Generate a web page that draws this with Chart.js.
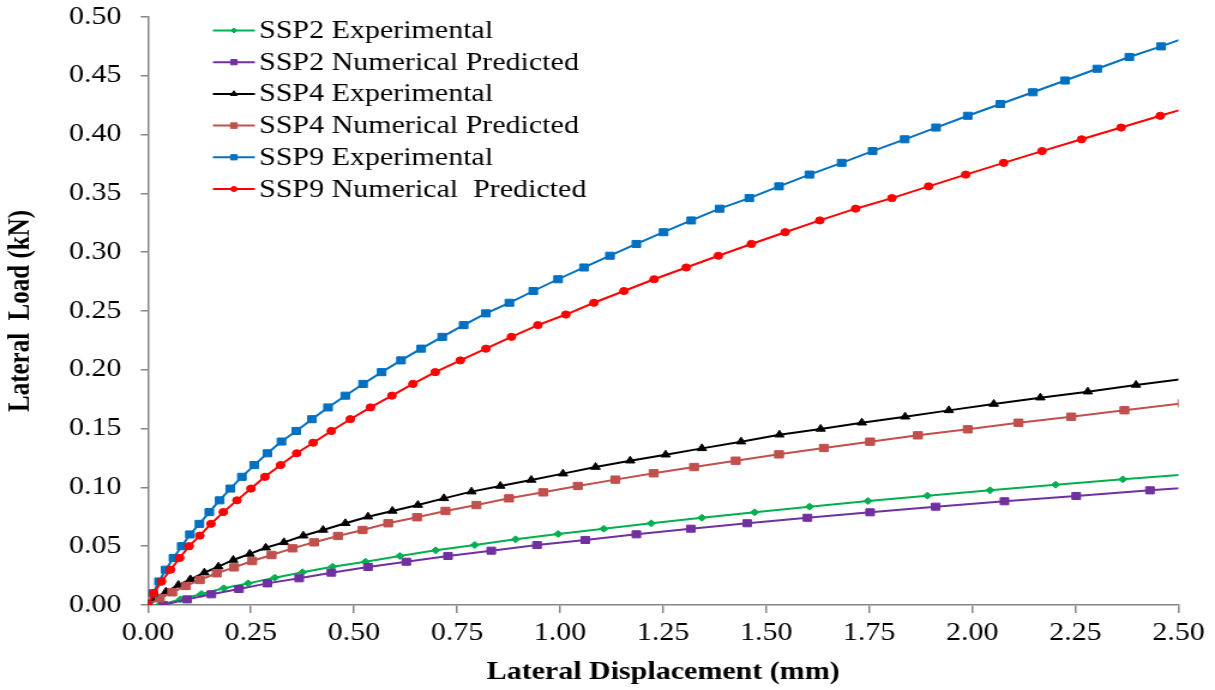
<!DOCTYPE html>
<html>
<head>
<meta charset="utf-8">
<script src="https://cdn.jsdelivr.net/npm/chart.js@4/dist/chart.umd.min.js"></script>
<style>
  html, body { margin: 0; padding: 0; background: #fff; overflow: hidden; }
  /* the chart is laid out narrower and stretched sideways to the page width */
  #wrap { width: 1013px; height: 690px; transform: scaleX(1.1994); transform-origin: 0 0; }
</style>
</head>
<body>
<div id="wrap"><canvas id="graficoCarga" width="1013" height="690"></canvas></div>
<script>
// -------------------------------------------------------
// Lateral load vs lateral displacement, SSP2 / SSP4 / SSP9
// -------------------------------------------------------

// SSP2 experimental
const ssp2ExpX = [0.028, 0.079, 0.130, 0.184, 0.243, 0.308, 0.375, 0.448, 0.528, 0.611,
  0.698, 0.793, 0.892, 0.995, 1.106, 1.221, 1.344, 1.472, 1.605, 1.747, 1.891, 2.043,
  2.202, 2.365, 2.535];
const ssp2ExpY = [0.0, 0.0048, 0.0094, 0.0142, 0.0184, 0.0232, 0.0278, 0.0326, 0.0368, 0.0417,
  0.0465, 0.0510, 0.0559, 0.0604, 0.0649, 0.0695, 0.0742, 0.0788, 0.0836, 0.0884, 0.0930, 0.0975,
  0.1023, 0.1069, 0.1115];

// SSP2 numerical
const ssp2NumX = [0.037, 0.095, 0.154, 0.221, 0.290, 0.367, 0.445, 0.534, 0.627, 0.728,
  0.833, 0.944, 1.061, 1.185, 1.317, 1.454, 1.600, 1.752, 1.911, 2.078, 2.252, 2.431, 2.620];
const ssp2NumY = [0.0, 0.0048, 0.0091, 0.0136, 0.0184, 0.0227, 0.0275, 0.0323, 0.0368, 0.0417,
  0.0462, 0.0510, 0.0553, 0.0601, 0.0649, 0.0695, 0.0742, 0.0788, 0.0836, 0.0882, 0.0927, 0.0975, 0.1020];

// SSP4 experimental
const ssp4ExpX = [0, 0.017, 0.044, 0.074, 0.103, 0.137, 0.171, 0.207, 0.247, 0.286, 0.330,
  0.377, 0.425, 0.479, 0.534, 0.593, 0.655, 0.718, 0.785, 0.855, 0.930, 1.007, 1.086, 1.170,
  1.256, 1.344, 1.439, 1.532, 1.632, 1.732, 1.837, 1.943, 2.052, 2.165, 2.280, 2.397, 2.520];
const ssp4ExpY = [0, 0.0057, 0.0113, 0.0170, 0.0218, 0.0275, 0.0326, 0.0383, 0.0434, 0.0487, 0.0533,
  0.0589, 0.0638, 0.0695, 0.0751, 0.0800, 0.0850, 0.0907, 0.0964, 0.1012, 0.1063, 0.1117, 0.1173, 0.1227,
  0.1278, 0.1332, 0.1389, 0.1448, 0.1497, 0.1550, 0.1601, 0.1655, 0.1709, 0.1763, 0.1814, 0.1871, 0.1925];

// SSP4 numerical
const ssp4NumX = [0, 0.029, 0.059, 0.092, 0.126, 0.167, 0.209, 0.253, 0.300, 0.351, 0.403,
  0.461, 0.521, 0.583, 0.653, 0.722, 0.797, 0.876, 0.959, 1.043, 1.134, 1.227, 1.325, 1.426,
  1.531, 1.640, 1.752, 1.868, 1.989, 2.112, 2.240, 2.369, 2.510];
const ssp4NumY = [0, 0.0057, 0.0108, 0.0162, 0.0213, 0.0270, 0.0320, 0.0374, 0.0425, 0.0482, 0.0533,
  0.0587, 0.0638, 0.0695, 0.0746, 0.0800, 0.0850, 0.0907, 0.0958, 0.1012, 0.1066, 0.1120, 0.1173, 0.1227,
  0.1281, 0.1335, 0.1389, 0.1443, 0.1494, 0.1550, 0.1601, 0.1656, 0.1715];

// SSP9 experimental
const ssp9ExpX = [0, 0.013, 0.027, 0.043, 0.062, 0.082, 0.102, 0.125, 0.149, 0.174, 0.200,
  0.228, 0.258, 0.290, 0.324, 0.360, 0.398, 0.437, 0.479, 0.522, 0.567, 0.614, 0.663, 0.714,
  0.766, 0.820, 0.877, 0.935, 0.995, 1.058, 1.121, 1.185, 1.251, 1.318, 1.387, 1.459, 1.531,
  1.605, 1.683, 1.758, 1.836, 1.912, 1.989, 2.068, 2.147, 2.225, 2.303, 2.381, 2.458, 2.538];
const ssp9ExpY = [0, 0.010, 0.020, 0.030, 0.040, 0.050, 0.060, 0.069, 0.079, 0.089, 0.099,
  0.109, 0.119, 0.129, 0.139, 0.148, 0.158, 0.168, 0.178, 0.188, 0.198, 0.208, 0.218, 0.228,
  0.238, 0.248, 0.257, 0.267, 0.277, 0.287, 0.297, 0.307, 0.317, 0.327, 0.337, 0.346, 0.356,
  0.366, 0.376, 0.386, 0.396, 0.406, 0.416, 0.426, 0.436, 0.446, 0.456, 0.466, 0.475, 0.485];

// SSP9 numerical
const ssp9NumX = [0, 0.014, 0.033, 0.055, 0.077, 0.100, 0.126, 0.153, 0.183, 0.216, 0.250,
  0.284, 0.322, 0.361, 0.401, 0.445, 0.491, 0.540, 0.592, 0.643, 0.697, 0.758, 0.820, 0.882,
  0.946, 1.014, 1.082, 1.155, 1.228, 1.306, 1.384, 1.464, 1.546, 1.630, 1.717, 1.805, 1.894,
  1.984, 2.076, 2.169, 2.265, 2.361, 2.456, 2.553];
const ssp9NumY = [0, 0.010, 0.020, 0.030, 0.040, 0.050, 0.059, 0.069, 0.079, 0.089, 0.099,
  0.109, 0.119, 0.129, 0.138, 0.148, 0.158, 0.168, 0.178, 0.188, 0.198, 0.208, 0.218, 0.228,
  0.238, 0.247, 0.257, 0.267, 0.277, 0.287, 0.297, 0.307, 0.317, 0.327, 0.337, 0.346, 0.356,
  0.366, 0.376, 0.386, 0.396, 0.406, 0.416, 0.426];

const serie = (xs, ys) => xs.map((x, i) => ({ x: x, y: ys[i] }));

const fuente = 'Liberation Serif';

function dataset(label, xs, ys, color, style, radius, order) {
  return {
    label: label,
    data: serie(xs, ys),
    borderColor: color,
    backgroundColor: color,
    borderWidth: 2,
    pointStyle: style,
    pointRadius: radius,
    pointBackgroundColor: color,
    pointBorderColor: color,
    pointBorderWidth: 1,
    legendRadius: Math.max(radius - 1.3, 2.5),
    tension: 0,
    order: order
  };
}

const dataCarga = {
  datasets: [
    dataset('SSP2 Experimental', ssp2ExpX, ssp2ExpY, '#00B050', 'rectRot', 3.5, 6),
    dataset('SSP2 Numerical Predicted', ssp2NumX, ssp2NumY, '#7030A0', 'rect', 5, 5),
    dataset('SSP4 Experimental', ssp4ExpX, ssp4ExpY, '#000000', 'triangle', 4.5, 4),
    dataset('SSP4 Numerical Predicted', ssp4NumX, ssp4NumY, '#C0504D', 'rect', 5.2, 3),
    dataset('SSP9 Experimental', ssp9ExpX, ssp9ExpY, '#0070C0', 'rect', 5, 2),
    dataset('SSP9 Numerical  Predicted', ssp9NumX, ssp9NumY, '#FF0000', 'circle', 3.6, 1)
  ]
};

// legend drawn inside the plot, top left: short line + marker + label
const leyendaInterior = {
  id: 'leyendaInterior',
  afterDraw(chart) {
    const ctx = chart.ctx;
    ctx.save();
    ctx.font = '25px "' + fuente + '"';
    ctx.textBaseline = 'middle';
    ctx.textAlign = 'left';
    chart.data.datasets.forEach((ds, i) => {
      const y = 30.5 + i * 31.7;
      ctx.strokeStyle = ds.borderColor;
      ctx.lineWidth = 2;
      ctx.beginPath();
      ctx.moveTo(177.5, y);
      ctx.lineTo(212.5, y);
      ctx.stroke();
      ctx.fillStyle = ds.borderColor;
      ctx.lineWidth = 1;
      Chart.helpers.drawPoint(ctx, {
        pointStyle: ds.pointStyle, radius: ds.legendRadius, borderWidth: 1, rotation: 0
      }, 195, y);
      ctx.fillStyle = '#000';
      ctx.fillText(ds.label, 216, y + 1);
    });
    ctx.restore();
  }
};

const ejeGris = '#868686';

const configCarga = {
  type: 'line',
  data: dataCarga,
  options: {
    responsive: false,
    animation: false,
    layout: { padding: { top: 17, right: 30.5, bottom: 0, left: 0 } },
    plugins: {
      legend: { display: false },
      tooltip: { enabled: false }
    },
    scales: {
      x: {
        type: 'linear',
        min: 0,
        max: 2.5,
        afterFit: (axis) => { axis.height = 85; },
        ticks: {
          stepSize: 0.25,
          padding: 5,
          maxRotation: 0,
          color: '#000',
          font: { family: fuente, size: 25 },
          callback: (v) => v.toFixed(2)
        },
        grid: { drawOnChartArea: false, drawTicks: true, tickLength: 8, color: ejeGris, lineWidth: 1.5 },
        border: { color: ejeGris, width: 1.5 },
        title: {
          display: true,
          text: 'Lateral Displacement (mm)',
          color: '#000',
          padding: { top: 0, bottom: 2 },
          font: { family: fuente, size: 25, weight: 'bold' }
        }
      },
      y: {
        type: 'linear',
        min: 0,
        max: 0.5,
        // fixed axis width; the top label may sit in the page margin
        afterFit: (axis) => { axis.width = 123.3; axis.paddingTop = 0; },
        ticks: {
          stepSize: 0.05,
          padding: 16,
          color: '#000',
          font: { family: fuente, size: 25 },
          callback: (v) => v.toFixed(2)
        },
        grid: { drawOnChartArea: false, drawTicks: true, tickLength: 6, color: ejeGris, lineWidth: 1.5 },
        border: { color: ejeGris, width: 1.5 },
        title: {
          display: true,
          text: 'Lateral  Load (kN)',
          color: '#000',
          padding: { top: 3, bottom: 0 },
          font: { family: fuente, size: 25, weight: 'bold' }
        }
      }
    }
  },
  plugins: [leyendaInterior]
};

const ctxCarga = document.getElementById('graficoCarga').getContext('2d');
new Chart(ctxCarga, configCarga);
</script>
</body>
</html>
